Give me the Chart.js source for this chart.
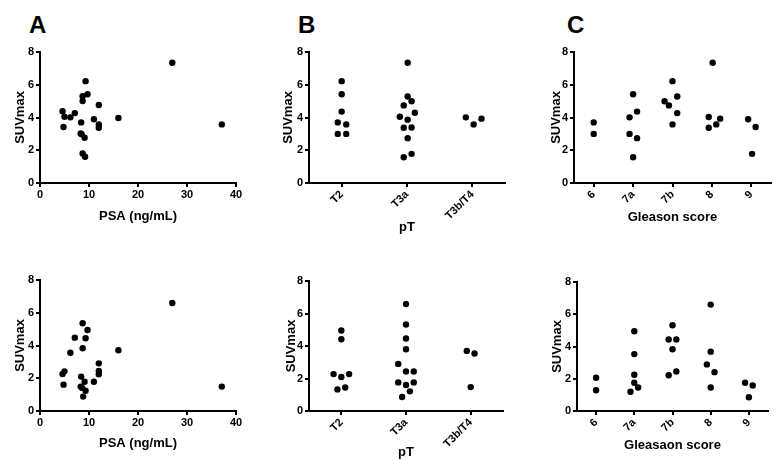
<!DOCTYPE html>
<html>
<head>
<meta charset="utf-8">
<script src="https://cdn.jsdelivr.net/npm/chart.js@4.4.1/dist/chart.umd.min.js"></script>
<style>
  body { margin: 0; background: #fff; width: 782px; height: 472px; position: relative; overflow: hidden;
         font-family: 'Liberation Sans', Arial, Helvetica, sans-serif; }
  .panel { position: absolute; }
  .letter { position: absolute; font-weight: bold; font-size: 24px; line-height: 24px; color: #000; }
</style>
</head>
<body>
<div class="letter" style="left:29px;top:13px">A</div>
<div class="letter" style="left:298px;top:13px">B</div>
<div class="letter" style="left:567px;top:13px">C</div>
<script>
// tick labels
const psaTicks = [0, 10, 20, 30, 40];
const pTLabels = ['T2', 'T3a', 'T3b/T4'];
const gleasonLabels = ['6', '7a', '7b', '8', '9'];
const suvTicks = [0, 2, 4, 6, 8];

// A, top row: PSA vs SUVmax
const psaTop = [4.6, 4.8, 5.0, 6.2, 7.1, 8.4, 8.3, 8.5, 9.1, 8.7, 9.2, 8.7, 8.7, 9.3, 9.7, 11.0, 12.0, 12.0, 12.0, 16.0, 27.0, 37.1];
const suvATop = [4.38, 3.42, 4.05, 4.01, 4.27, 3.70, 3.03, 2.98, 2.76, 1.80, 1.60, 5.01, 5.30, 6.22, 5.42, 3.89, 4.76, 3.58, 3.37, 3.97, 7.34, 3.58];

// B, top row: pT group (1 = T2, 2 = T3a, 3 = T3b/T4, with scatter offset)
const pTTop = [1, 1, 1, 0.94, 1.07, 0.94, 1.07, 2.01, 2.01, 2.07, 1.95, 1.89, 2.12, 2.01, 1.95, 2.07, 2.01, 1.95, 2.07, 2.90, 3.02, 3.14];
const suvBTop = [6.22, 5.42, 4.36, 3.70, 3.58, 3.0, 3.0, 7.34, 5.28, 4.99, 4.74, 4.05, 4.29, 3.87, 3.37, 3.39, 2.74, 1.57, 1.78, 4.01, 3.58, 3.93];

// C, top row: Gleason group (1 = 6 ... 5 = 9)
const gleasonTop = [1, 1, 2, 1.91, 2.10, 1.91, 2.10, 2, 3, 2.80, 2.91, 3.12, 3.12, 3, 4.02, 3.92, 3.92, 4.11, 4.21, 4.92, 5.11, 5.02];
const suvCTop = [3.70, 3.0, 5.42, 4.01, 4.36, 3.0, 2.74, 1.57, 6.22, 4.99, 4.74, 5.28, 4.27, 3.58, 7.34, 4.03, 3.37, 3.58, 3.93, 3.89, 3.42, 1.78];

// bottom row
const psaBottom = [4.6, 5.0, 4.8, 6.2, 7.1, 8.4, 8.3, 8.6, 8.7, 8.7, 9.1, 8.8, 9.3, 9.3, 9.7, 11.0, 12.0, 12.0, 12.0, 16.0, 27.0, 37.1];
const suvABottom = [2.26, 2.42, 1.61, 3.56, 4.48, 2.10, 1.49, 1.41, 5.36, 3.83, 1.79, 0.88, 1.24, 4.44, 4.95, 1.79, 2.91, 2.44, 2.24, 3.71, 6.60, 1.49];

const pTBottom = [1, 1, 0.88, 1.12, 1, 0.94, 1.06, 2, 2, 2, 2, 1.88, 2, 2.12, 1.88, 2, 2.12, 2.06, 1.94, 2.94, 3.06, 3];
const suvBBottom = [4.95, 4.42, 2.27, 2.27, 2.09, 1.33, 1.45, 6.58, 5.32, 4.46, 3.80, 2.90, 2.43, 2.43, 1.76, 1.60, 1.76, 1.21, 0.86, 3.70, 3.54, 1.47];

const gleasonBottom = [1, 1, 2, 2, 2, 2, 2.10, 1.90, 3, 2.90, 3.10, 3, 2.90, 3.10, 4, 4, 3.90, 4.10, 4, 4.90, 5.10, 5];
const suvCBottom = [2.06, 1.29, 4.95, 3.53, 2.25, 1.75, 1.46, 1.19, 5.32, 4.43, 4.43, 3.83, 2.22, 2.45, 6.60, 3.68, 2.89, 2.41, 1.46, 1.75, 1.58, 0.85];

Chart.defaults.font.family = "'Liberation Sans', Arial, Helvetica, sans-serif";
Chart.defaults.color = '#000';

const titleSize = 13;
const lh = titleSize * 1.2;

function makePanel(p) {
  const [bl, bt, bw, bh] = p.box;
  const [al, at, ar, ab] = p.area;
  const wrap = document.createElement('div');
  wrap.className = 'panel';
  wrap.style.cssText = `left:${bl}px;top:${bt}px;width:${bw}px;height:${bh}px`;
  const cv = document.createElement('canvas');
  cv.width = bw;
  cv.height = bh;
  wrap.appendChild(cv);
  document.body.appendChild(wrap);

  new Chart(cv, {
    type: 'scatter',
    data: {
      datasets: [{
        data: p.xs.map((x, i) => ({ x: x, y: p.ys[i] })),
        backgroundColor: '#000',
        borderWidth: 0,
        pointRadius: 3.2,
        pointHoverRadius: 3.2
      }]
    },
    options: {
      responsive: false,
      animation: false,
      layout: { padding: { left: 0, top: at - bt, right: bl + bw - ar, bottom: 0 } },
      plugins: { legend: { display: false }, tooltip: { enabled: false } },
      scales: {
        x: {
          type: 'linear',
          min: p.xMin,
          max: p.xMax,
          afterBuildTicks: s => { s.ticks = p.xTicks.map(v => ({ value: v })); },
          afterFit: s => { s.height = bt + bh - ab; },
          ticks: {
            callback: p.xLabel,
            font: { size: 11, weight: 'bold' },
            color: '#000',
            padding: 1,
            autoSkip: false,
            minRotation: p.rot,
            maxRotation: p.rot
          },
          grid: { drawOnChartArea: false, drawTicks: true, tickLength: 4, lineWidth: 2, color: '#000' },
          border: { color: '#000', width: 2 },
          title: {
            display: true, text: p.xTitle, color: '#000',
            font: { size: titleSize, weight: 'bold' },
            padding: { top: 0, bottom: bt + bh - p.xTitleY - lh / 2 }
          }
        },
        y: {
          min: 0,
          max: 8,
          afterBuildTicks: s => { s.ticks = suvTicks.map(v => ({ value: v })); },
          afterFit: s => { s.width = al - bl; },
          ticks: { font: { size: 11, weight: 'bold' }, color: '#000', padding: 2 },
          grid: { drawOnChartArea: false, drawTicks: true, tickLength: 4, lineWidth: 2, color: '#000' },
          border: { color: '#000', width: 2 },
          title: {
            display: true, text: 'SUVmax', color: '#000',
            font: { size: titleSize, weight: 'bold' },
            padding: { top: p.yTitleX - bl - lh / 2, bottom: 0 }
          }
        }
      }
    }
  });
}

const psaAxis = { xMin: 0, xMax: 40, xTicks: psaTicks, xLabel: v => v, rot: 0, xTitle: 'PSA (ng/mL)' };
const pTAxis = { xMin: 0.5, xMax: 3.5, xTicks: [1, 2, 3], xLabel: v => pTLabels[v - 1], rot: 45, xTitle: 'pT' };
const gleasonAxis = { xMin: 0.5, xMax: 5.5, xTicks: [1, 2, 3, 4, 5], xLabel: v => gleasonLabels[v - 1], rot: 45 };

makePanel({ ...psaAxis, box: [0, 40, 255, 195], area: [40, 52, 236, 183], yTitleX: 20.5, xTitleY: 216, xs: psaTop, ys: suvATop });
makePanel({ ...pTAxis, box: [262, 40, 258, 195], area: [309, 52, 505, 183], yTitleX: 288.5, xTitleY: 227, xs: pTTop, ys: suvBTop });
makePanel({ ...gleasonAxis, xTitle: 'Gleason score', box: [527, 40, 255, 195], area: [574, 52, 771, 183], yTitleX: 556, xTitleY: 217, xs: gleasonTop, ys: suvCTop });

makePanel({ ...psaAxis, box: [0, 262, 255, 210], area: [40, 280, 236, 411], yTitleX: 20.5, xTitleY: 443, xs: psaBottom, ys: suvABottom });
makePanel({ ...pTAxis, box: [262, 262, 258, 210], area: [309, 281, 503, 411], yTitleX: 291, xTitleY: 452, xs: pTBottom, ys: suvBBottom });
makePanel({ ...gleasonAxis, xTitle: 'Gleasaon score', box: [527, 262, 255, 210], area: [577, 282, 768, 411], yTitleX: 557, xTitleY: 445, xs: gleasonBottom, ys: suvCBottom });
</script>
</body>
</html>
